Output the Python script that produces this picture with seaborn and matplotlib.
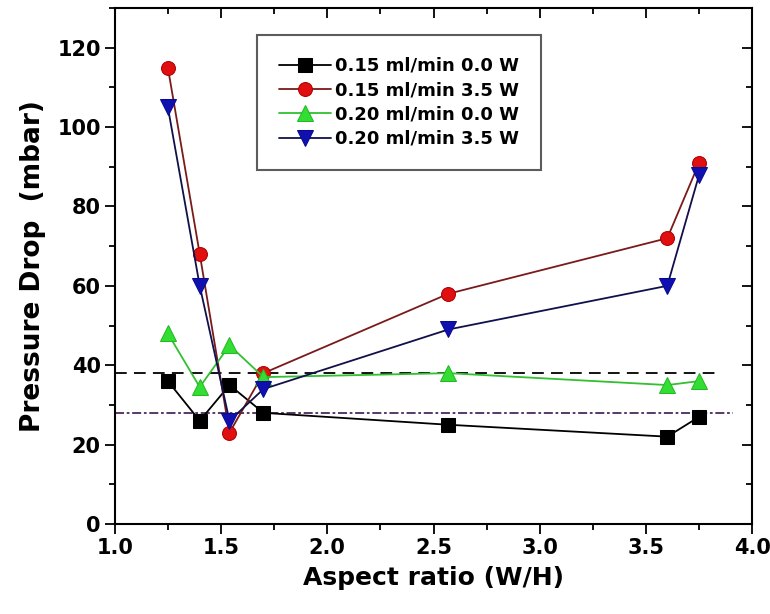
import matplotlib
matplotlib.use("Agg")
import matplotlib.pyplot as plt
import seaborn as sns
import numpy as np
import pandas as pd
from matplotlib.ticker import MultipleLocator

sns.set_theme(style="white")
plt.rcParams['font.family'] = ['DejaVu Sans']
plt.rcParams['font.weight'] = 'bold'
plt.rcParams['text.color'] = 'black'
plt.rcParams['axes.labelcolor'] = 'black'
plt.rcParams['xtick.color'] = 'black'
plt.rcParams['ytick.color'] = 'black'

aspect_ratio = [1.25, 1.40, 1.54, 1.70, 2.57, 3.60, 3.75]
s015_00 = [36, 26, 35, 28, 25, 22, 27]
s015_35 = [115, 68, 23, 38, 58, 72, 91]
s020_00 = [48, 34.5, 45, 37, 38, 35, 36]
s020_35 = [105, 60, 26, 34, 49, 60, 88]
labels = ["0.15 ml/min 0.0 W", "0.15 ml/min 3.5 W",
          "0.20 ml/min 0.0 W", "0.20 ml/min 3.5 W"]
ref_dashed = 38
ref_dashdot = 28
ref_dashed_end = 3.85
ref_dashdot_end = 3.91

series = [s015_00, s015_35, s020_00, s020_35]
styles = [
    dict(marker='s', color='#000000', mfc='#000000', mec='#000000', ms=9.5),
    dict(marker='o', color='#7a1a1a', mfc='#e01010', mec='#b00000', ms=10),
    dict(marker='^', color='#30c030', mfc='#33dd33', mec='#22bb22', ms=11),
    dict(marker='v', color='#10104a', mfc='#1010b0', mec='#0a0a90', ms=11),
]

fig = plt.figure(figsize=(7.7, 6.14), dpi=100)
ax = fig.add_axes([0.149, 0.1466, 0.828, 0.8404])

for vals, lab, st in zip(series, labels, styles):
    df = pd.DataFrame({"x": aspect_ratio, "y": vals})
    sns.lineplot(data=df, x="x", y="y", ax=ax, label=lab,
                 color=st['color'], marker=st['marker'],
                 markerfacecolor=st['mfc'], markeredgecolor=st['mec'],
                 markersize=st['ms'], linewidth=1.3, estimator=None,
                 sort=False)

ax.plot([1.0, ref_dashed_end], [ref_dashed, ref_dashed], color='black',
        linestyle=(0, (6.5, 4)), linewidth=1.3, zorder=1)
ax.plot([1.0, ref_dashdot_end], [ref_dashdot, ref_dashdot], color='#4a2a5a',
        linestyle=(0, (5, 1.5, 1.5, 1.5)), linewidth=1.3, zorder=1)

ax.set_xlim(1.0, 4.0)
ax.set_ylim(0, 130)
ax.xaxis.set_major_locator(MultipleLocator(0.5))
ax.xaxis.set_minor_locator(MultipleLocator(0.25))
ax.yaxis.set_minor_locator(MultipleLocator(10))
ax.set_yticks([0, 20, 40, 60, 80, 100, 120])

ax.tick_params(which='both', direction='out', bottom=True, left=True,
               top=False, right=False, labelsize=15, width=1.3,
               color='black', labelcolor='black')
ax.tick_params(which='major', length=7, pad=3)
ax.tick_params(which='minor', length=4)
for lab in ax.get_xticklabels() + ax.get_yticklabels():
    lab.set_fontweight('bold')

# inward ticks on top and right
sec_x = ax.secondary_xaxis('top')
sec_x.xaxis.set_major_locator(MultipleLocator(0.5))
sec_x.xaxis.set_minor_locator(MultipleLocator(0.25))
sec_x.tick_params(which='both', direction='in', labeltop=False, width=1.3, color='black')
sec_x.tick_params(which='major', length=7)
sec_x.tick_params(which='minor', length=4)
sec_y = ax.secondary_yaxis('right')
sec_y.yaxis.set_major_locator(MultipleLocator(20))
sec_y.yaxis.set_minor_locator(MultipleLocator(10))
sec_y.tick_params(which='both', direction='in', labelright=False, width=1.3, color='black')
sec_y.tick_params(which='major', length=7)
sec_y.tick_params(which='minor', length=4)
for s in sec_x.spines.values():
    s.set_visible(False)
for s in sec_y.spines.values():
    s.set_visible(False)

for s in ax.spines.values():
    s.set_visible(True)
    s.set_color('black')
    s.set_linewidth(1.5)

ax.set_xlabel("Aspect ratio (W/H)", fontsize=18, fontweight='bold',
              labelpad=6, color='black')
ax.set_ylabel("Pressure Drop  (mbar)", fontsize=19, fontweight='bold',
              labelpad=8.5, color='black')

leg = ax.legend(loc='upper left', bbox_to_anchor=(0.223, 0.947),
                prop={'weight': 'bold', 'size': 13}, frameon=True,
                fancybox=False, edgecolor='#333333', handlelength=2.9,
                borderpad=1.2, labelspacing=0.35, handletextpad=0.25,
                borderaxespad=0)
leg.get_frame().set_linewidth(1.5)
for t in leg.get_texts():
    t.set_color('black')

fig.savefig("out.png", dpi=100)
